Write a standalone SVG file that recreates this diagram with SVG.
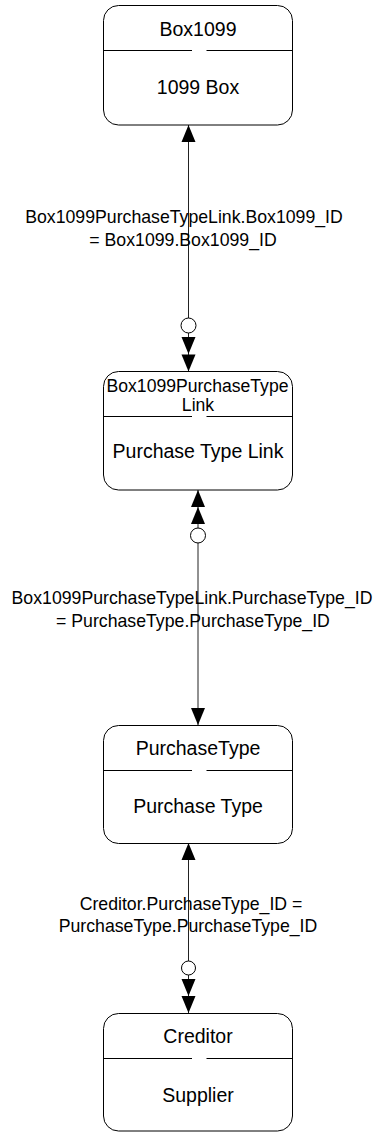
<svg xmlns="http://www.w3.org/2000/svg" width="382" height="1132" viewBox="0 0 382 1132">
<style>
.box{fill:#fff;stroke:#000;stroke-width:1}
.div{stroke:#000;stroke-width:1}
.nt{font-family:"Liberation Sans",Arial,sans-serif;font-size:19.5px;fill:#000;text-anchor:middle}
.ht{font-family:"Liberation Sans",Arial,sans-serif;font-size:17.6px;fill:#000;text-anchor:middle}
.lt{font-family:"Liberation Sans",Arial,sans-serif;font-size:17.7px;fill:#000;text-anchor:middle}
.ln{stroke:#222;stroke-width:1;fill:none}
.ah{fill:#000}
.ci{fill:#fff;stroke:#000;stroke-width:1}
</style>
<rect width="382" height="1132" fill="#fff"/>
<g id="connectors">
  <g id="c1">
    <line class="ln" x1="188.5" y1="125" x2="188.5" y2="371.5"/>
    <polygon class="ah" points="188.5,125 181.5,142 195.5,142"/>
    <circle class="ci" cx="188.5" cy="325.5" r="7.5"/>
    <polygon class="ah" points="188.5,354 181.5,337 195.5,337"/>
    <polygon class="ah" points="188.5,371.5 181.5,354.5 195.5,354.5"/>
  </g>
  <g id="c2">
    <line class="ln" x1="198" y1="490" x2="198" y2="725"/>
    <polygon class="ah" points="198,490 191,507 205,507"/>
    <polygon class="ah" points="198,507 191,524 205,524"/>
    <circle class="ci" cx="198" cy="535.5" r="7.5"/>
    <polygon class="ah" points="198,725 191,708 205,708"/>
  </g>
  <g id="c3">
    <line class="ln" x1="188.5" y1="843" x2="188.5" y2="1013"/>
    <polygon class="ah" points="188.5,843 181.5,860 195.5,860"/>
    <circle class="ci" cx="188.5" cy="968" r="7"/>
    <polygon class="ah" points="188.5,996 181.5,979 195.5,979"/>
    <polygon class="ah" points="188.5,1013 181.5,996 195.5,996"/>
  </g>
  <g id="labels">
    <text class="lt" x="184" y="223">Box1099PurchaseTypeLink.Box1099_ID</text>
    <text class="lt" x="183" y="245.5">= Box1099.Box1099_ID</text>
    <text class="lt" x="192" y="604">Box1099PurchaseTypeLink.PurchaseType_ID</text>
    <text class="lt" x="193" y="627">= PurchaseType.PurchaseType_ID</text>
    <text class="lt" x="191" y="910">Creditor.PurchaseType_ID =</text>
    <text class="lt" x="188" y="932">PurchaseType.PurchaseType_ID</text>
  </g>
</g>
<g id="Box1099">
  <rect class="box" x="103.5" y="5.5" width="189" height="119.5" rx="15" ry="15"/>
  <line class="div" x1="103.5" y1="50.5" x2="192" y2="50.5"/>
  <line class="div" x1="206.5" y1="50.5" x2="292.5" y2="50.5"/>
  <text class="nt" x="198" y="36">Box1099</text>
  <text class="nt" x="198" y="94">1099 Box</text>
</g>
<g id="Box1099PurchaseTypeLink">
  <rect class="box" x="103.5" y="371.5" width="189" height="118.5" rx="15" ry="15"/>
  <line class="div" x1="103.5" y1="416.5" x2="192" y2="416.5"/>
  <line class="div" x1="206.5" y1="416.5" x2="292.5" y2="416.5"/>
  <text class="ht" x="197.5" y="392">Box1099PurchaseType</text>
  <text class="ht" x="198" y="411">Link</text>
  <text class="nt" x="198" y="458">Purchase Type Link</text>
</g>
<g id="PurchaseType">
  <rect class="box" x="103.5" y="725.5" width="189" height="118" rx="15" ry="15"/>
  <line class="div" x1="103.5" y1="770.5" x2="192" y2="770.5"/>
  <line class="div" x1="206.5" y1="770.5" x2="292.5" y2="770.5"/>
  <text class="nt" x="198" y="755">PurchaseType</text>
  <text class="nt" x="198" y="812.5">Purchase Type</text>
</g>
<g id="Creditor">
  <rect class="box" x="103.5" y="1013.5" width="189" height="117.5" rx="15" ry="15"/>
  <line class="div" x1="103.5" y1="1058.5" x2="192" y2="1058.5"/>
  <line class="div" x1="206.5" y1="1058.5" x2="292.5" y2="1058.5"/>
  <text class="nt" x="198" y="1043">Creditor</text>
  <text class="nt" x="198" y="1101.5">Supplier</text>
</g>
</svg>
